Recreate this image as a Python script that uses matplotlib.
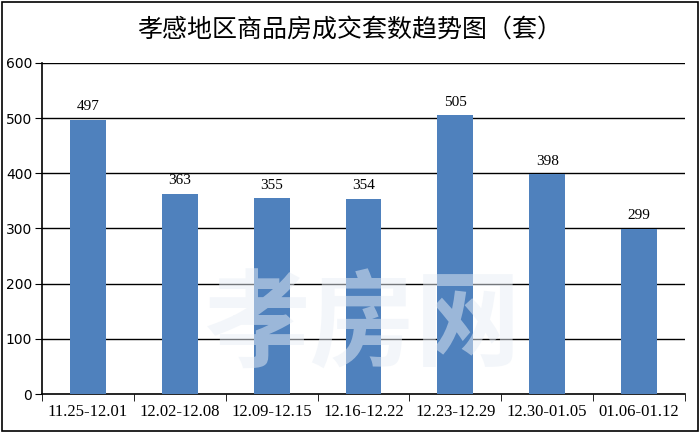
import matplotlib
matplotlib.use("Agg")
import matplotlib.pyplot as plt
from matplotlib.patches import Rectangle

categories = ["11.25-12.01", "12.02-12.08", "12.09-12.15", "12.16-12.22",
              "12.23-12.29", "12.30-01.05", "01.06-01.12"]
values = [497, 363, 355, 354, 505, 398, 299]
yticks = [0, 100, 200, 300, 400, 500, 600]
title = "孝感地区商品房成交套数趋势图（套）"

plt.rcParams['font.family'] = ['Liberation Serif', 'Noto Sans CJK SC']

fig = plt.figure(figsize=(7, 4.33), dpi=100)
fig.patches.append(Rectangle((0.003, 0.004), 0.994, 0.992, transform=fig.transFigure,
                             fill=False, edgecolor='black', linewidth=1.2))
ax = fig.add_axes([42/700, 1 - 394/433, (685-42)/700, (394-63)/433])

x = range(len(categories))
ax.bar(x, values, width=0.39, color='#4F81BD', zorder=3)
for i, v in enumerate(values):
    ax.text(i, v + 12, str(v), ha='center', va='bottom', fontsize=11, zorder=4)

ax.set_xlim(-0.5, len(categories) - 0.5)
ax.set_ylim(0, 600)
ax.set_yticks(yticks)
ax.set_yticklabels([str(t) for t in yticks], fontsize=10, family='DejaVu Sans')
for t in yticks[1:]:
    ax.axhline(t, color='black', linewidth=1, zorder=1)
ax.set_xticks(list(x))
ax.set_xticklabels(categories, fontsize=12)
ax.tick_params(axis='x', length=0, pad=7)
ax.set_xticks([i - 0.5 for i in range(len(categories) + 1)], minor=True)
ax.tick_params(axis='x', which='minor', length=5, direction='out', color='black')
ax.tick_params(axis='y', length=5, direction='out', pad=2)
for s in ['top', 'right']:
    ax.spines[s].set_visible(False)
ax.spines['left'].set_linewidth(1.2)
ax.spines['bottom'].set_linewidth(1.2)

ax.text(0.5, 0.2, "孝房网", transform=ax.transAxes, ha='center', va='center',
        fontsize=76, family='Noto Sans CJK SC', fontweight='bold',
        color='#e8eef6', alpha=0.5, zorder=5)

fig.text(0.5, 1 - 30/433, title, ha='center', va='center', fontsize=18,
         family='Noto Sans CJK SC')

fig.savefig("out.png", dpi=100)
